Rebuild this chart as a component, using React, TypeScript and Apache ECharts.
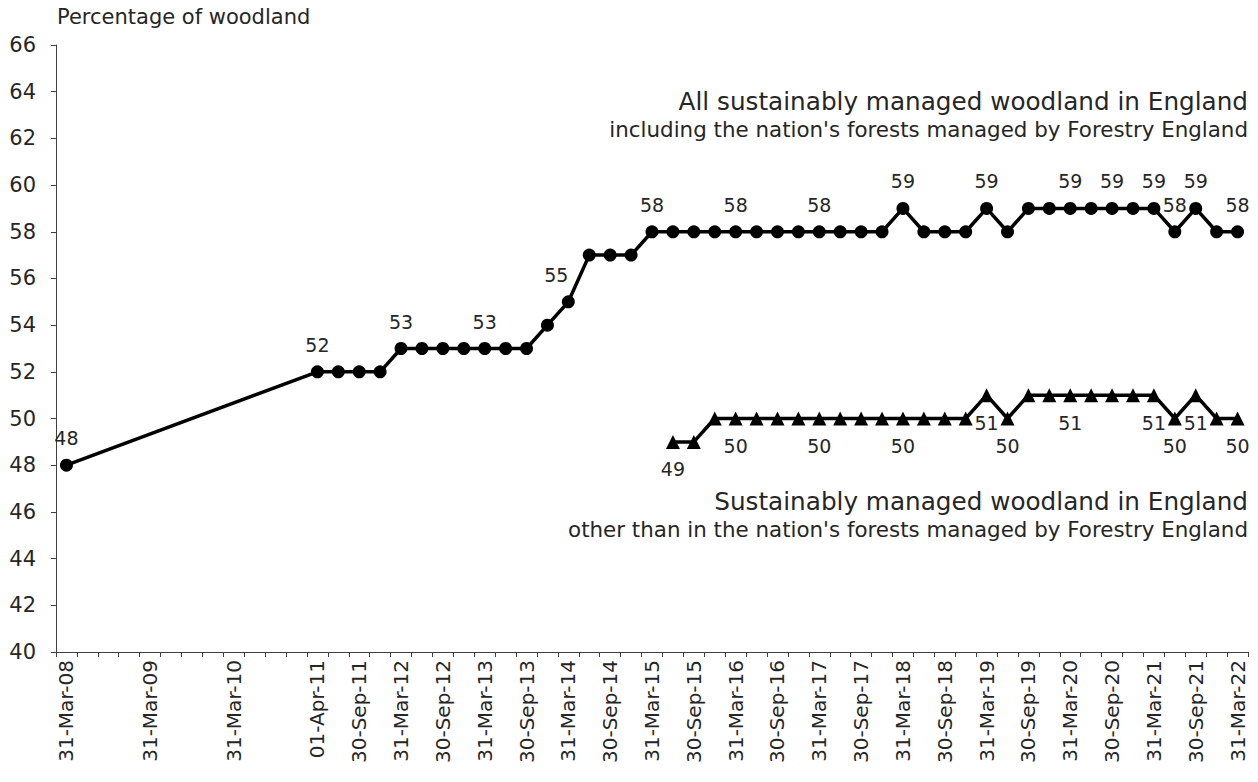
import React, { useEffect, useRef } from "react";
import * as echarts from "echarts";

const categories = [
  "31-Mar-08", "30-Jun-08", "30-Sep-08", "31-Dec-08",
  "31-Mar-09", "30-Jun-09", "30-Sep-09", "31-Dec-09",
  "31-Mar-10", "30-Jun-10", "30-Sep-10", "31-Dec-10",
  "01-Apr-11", "30-Jun-11", "30-Sep-11", "31-Dec-11",
  "31-Mar-12", "30-Jun-12", "30-Sep-12", "31-Dec-12",
  "31-Mar-13", "30-Jun-13", "30-Sep-13", "31-Dec-13",
  "31-Mar-14", "30-Jun-14", "30-Sep-14", "31-Dec-14",
  "31-Mar-15", "30-Jun-15", "30-Sep-15", "31-Dec-15",
  "31-Mar-16", "30-Jun-16", "30-Sep-16", "31-Dec-16",
  "31-Mar-17", "30-Jun-17", "30-Sep-17", "31-Dec-17",
  "31-Mar-18", "30-Jun-18", "30-Sep-18", "31-Dec-18",
  "31-Mar-19", "30-Jun-19", "30-Sep-19", "31-Dec-19",
  "31-Mar-20", "30-Jun-20", "30-Sep-20", "31-Dec-20",
  "31-Mar-21", "30-Jun-21", "30-Sep-21", "31-Dec-21",
  "31-Mar-22",
];

const xTickLabels = [
  "31-Mar-08", "31-Mar-09", "31-Mar-10", "01-Apr-11", "30-Sep-11",
  "31-Mar-12", "30-Sep-12", "31-Mar-13", "30-Sep-13", "31-Mar-14",
  "30-Sep-14", "31-Mar-15", "30-Sep-15", "31-Mar-16", "30-Sep-16",
  "31-Mar-17", "30-Sep-17", "31-Mar-18", "30-Sep-18", "31-Mar-19",
  "30-Sep-19", "31-Mar-20", "30-Sep-20", "31-Mar-21", "30-Sep-21",
  "31-Mar-22",
];

// All sustainably managed woodland (incl. Forestry England)
const allManaged: (number | null)[] = [
  48, null, null, null,
  null, null, null, null,
  null, null, null, null,
  52, 52, 52, 52,
  53, 53, 53, 53,
  53, 53, 53, 54,
  55, 57, 57, 57,
  58, 58, 58, 58,
  58, 58, 58, 58,
  58, 58, 58, 58,
  59, 58, 58, 58,
  59, 58, 59, 59,
  59, 59, 59, 59,
  59, 58, 59, 58,
  58,
];

// Sustainably managed woodland other than Forestry England
const otherManaged: (number | null)[] = [
  null, null, null, null,
  null, null, null, null,
  null, null, null, null,
  null, null, null, null,
  null, null, null, null,
  null, null, null, null,
  null, null, null, null,
  null, 49, 49, 50,
  50, 50, 50, 50,
  50, 50, 50, 50,
  50, 50, 50, 50,
  51, 50, 51, 51,
  51, 51, 51, 51,
  51, 50, 51, 50,
  50,
];

const allLabelled = ["31-Mar-08", "01-Apr-11", "31-Mar-12", "31-Mar-13", "31-Mar-14", "31-Mar-15", "31-Mar-16", "31-Mar-17", "31-Mar-18", "31-Mar-19", "31-Mar-20", "30-Sep-20", "31-Mar-21", "30-Jun-21", "30-Sep-21", "31-Mar-22"];
const otherLabelled = ["30-Jun-15", "31-Mar-16", "31-Mar-17", "31-Mar-18", "31-Mar-19", "30-Jun-19", "31-Mar-20", "31-Mar-21", "30-Jun-21", "30-Sep-21", "31-Mar-22"];
// labels that sit up-left of their point in the original
const allLabelledLeft = ["31-Mar-14"];

const yMin = 40;
const yMax = 66;
const yStep = 2;

const FONT = "DejaVu Sans";
const TEXT = "#262626";
const AXIS = "#404040";

export default function App() {
  const ref = useRef<HTMLDivElement>(null);

  useEffect(() => {
    if (!ref.current) return;
    const chart = echarts.init(ref.current, undefined, { renderer: "svg" });

    const build = (vals: (number | null)[], labelled: string[], left: string[] = []) =>
      vals.map((v, i) => ({
        value: v,
        label: left.includes(categories[i])
          ? { show: v !== null, position: "top", align: "right", distance: 11 }
          : { show: v !== null && labelled.includes(categories[i]) },
      }));

    chart.setOption({
      animation: false,
      textStyle: { fontFamily: FONT },
      grid: { left: 56, right: 10, top: 45, bottom: 130, containLabel: false },
      xAxis: {
        type: "category",
        data: categories,
        boundaryGap: true,
        axisLine: { lineStyle: { color: AXIS, width: 1 } },
        axisTick: { show: true, interval: 0, length: 5, lineStyle: { color: AXIS } },
        axisLabel: {
          interval: (_i: number, v: string) => xTickLabels.includes(v),
          rotate: 90,
          fontSize: 20,
          color: TEXT,
          fontFamily: FONT,
          margin: 8,
        },
        splitLine: { show: false },
      },
      yAxis: {
        type: "value",
        min: yMin,
        max: yMax,
        interval: yStep,
        axisLine: { show: true, lineStyle: { color: AXIS, width: 1 } },
        axisTick: { show: true, length: 5, lineStyle: { color: AXIS } },
        axisLabel: { fontSize: 21, color: TEXT, fontFamily: FONT, margin: 20 },
        splitLine: { show: false },
      },
      graphic: [
        {
          type: "text",
          left: 57,
          top: 6,
          style: { text: "Percentage of woodland", fontSize: 21, fill: TEXT, fontFamily: FONT },
        },
        {
          type: "text",
          right: 10,
          top: 89,
          style: { text: "All sustainably managed woodland in England", fontSize: 24.7, fill: TEXT, fontFamily: FONT },
        },
        {
          type: "text",
          right: 10,
          top: 119,
          style: { text: "including the nation's forests managed by Forestry England", fontSize: 21.4, fill: TEXT, fontFamily: FONT },
        },
        {
          type: "text",
          right: 10,
          top: 489,
          style: { text: "Sustainably managed woodland in England", fontSize: 24.7, fill: TEXT, fontFamily: FONT },
        },
        {
          type: "text",
          right: 10,
          top: 519,
          style: { text: "other than in the nation's forests managed by Forestry England", fontSize: 21.4, fill: TEXT, fontFamily: FONT },
        },
      ],
      series: [
        {
          name: "All sustainably managed woodland in England",
          type: "line",
          data: build(allManaged, allLabelled, allLabelledLeft),
          connectNulls: true,
          showAllSymbol: true,
          symbol: "circle",
          symbolSize: 13,
          itemStyle: { color: "#000" },
          lineStyle: { color: "#000", width: 3.5 },
          label: { position: "top", distance: 11, fontSize: 19, color: TEXT, fontFamily: FONT },
          labelLayout: { hideOverlap: false },
        },
        {
          name: "Sustainably managed woodland in England (other)",
          type: "line",
          data: build(otherManaged, otherLabelled),
          connectNulls: true,
          showAllSymbol: true,
          symbol: "triangle",
          symbolSize: 14,
          itemStyle: { color: "#000" },
          lineStyle: { color: "#000", width: 3.5 },
          label: { position: "bottom", distance: 11, fontSize: 19, color: TEXT, fontFamily: FONT },
          labelLayout: { hideOverlap: false },
        },
      ],
    });

    return () => chart.dispose();
  }, []);

  return (
    <div
      ref={ref}
      style={{ position: "fixed", left: 0, top: 0, width: 1258, height: 782, background: "#fff" }}
    />
  );
}
